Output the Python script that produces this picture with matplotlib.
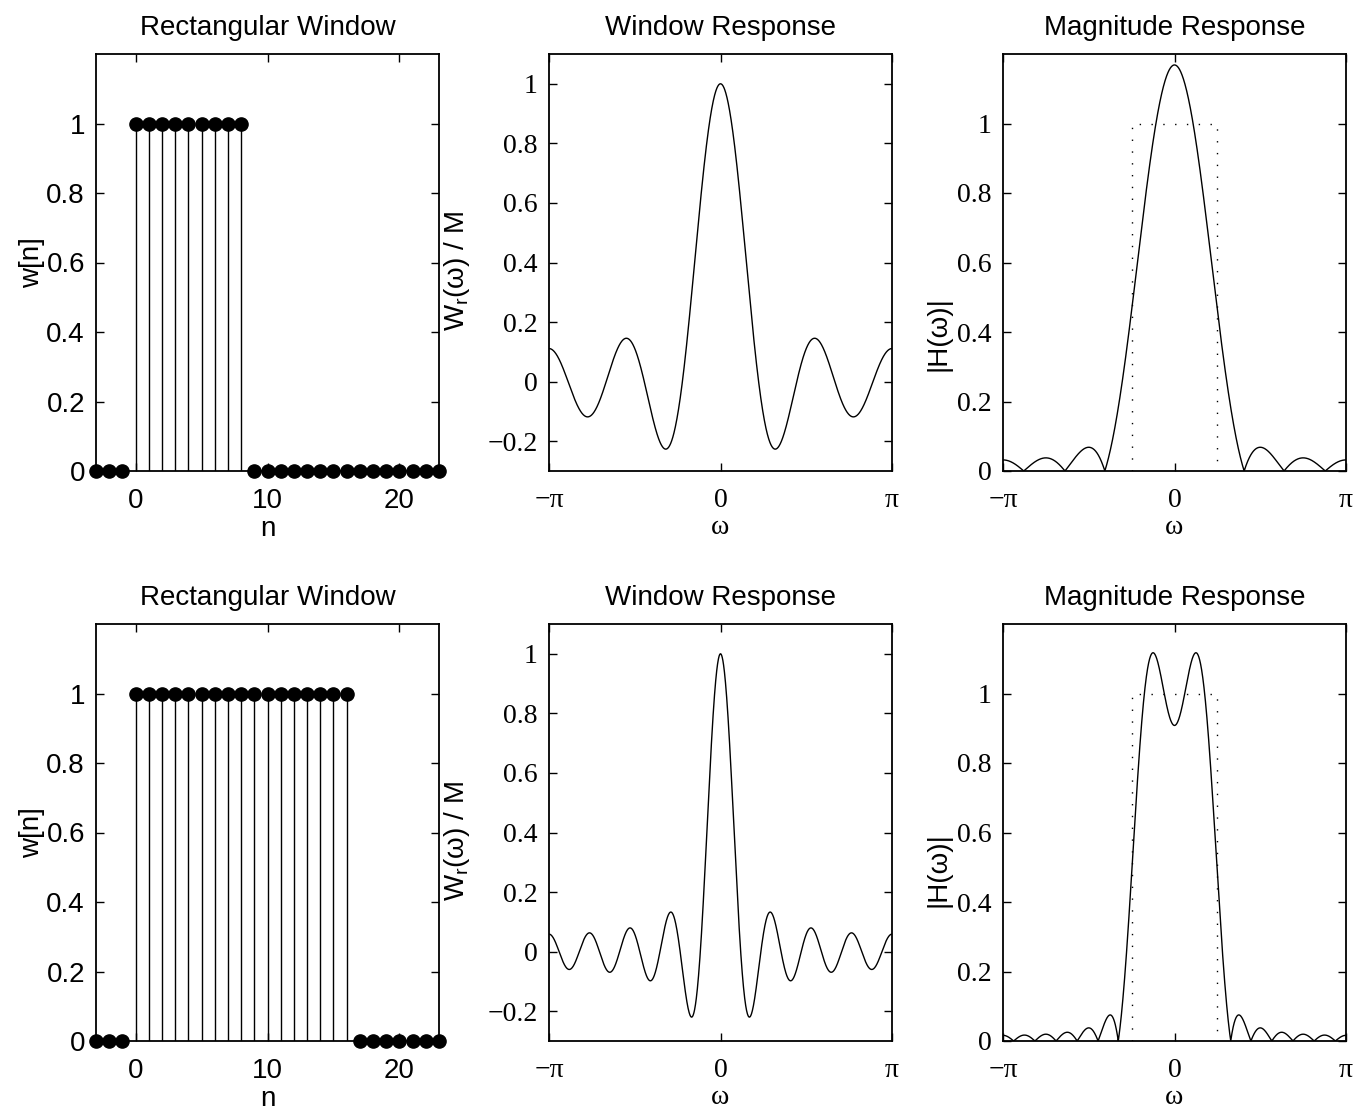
import numpy as np
import matplotlib
matplotlib.use("Agg")
import matplotlib.pyplot as plt

# ---- data ----
n = list(range(-3, 24))
w_top = [0, 0, 0] + [1] * 9 + [0] * 15      # M = 9
w_bot = [0, 0, 0] + [1] * 17 + [0] * 7      # M = 17
cutoff = np.pi / 4                           # ideal lowpass cutoff
ideal_w = [-np.pi / 4, -np.pi / 4, np.pi / 4, np.pi / 4]
ideal_h = [0, 1, 1, 0]

titles = ["Rectangular Window", "Window Response", "Magnitude Response"]
pi_ticks = [-np.pi, 0, np.pi]
pi_labels = ["\u2212\u03c0", "0", "\u03c0"]

SANS = "Liberation Sans"
SERIF = "Liberation Serif"
FS = 20

fig = plt.figure(figsize=(13.69, 11.11), dpi=100)
W, H = 1369, 1111

def axes_px(x0, y0, x1, y1):
    return fig.add_axes([x0 / W, 1 - y1 / H, (x1 - x0) / W, (y1 - y0) / H])

col_x = [(96, 439), (549, 892), (1003, 1346)]
row_y = [(54, 471), (624, 1041)]
hlabel_y = [0.33, 0.41]

omega = np.linspace(-np.pi, np.pi, 2001)

def style(ax, serif):
    fam = SERIF if serif else SANS
    ax.tick_params(direction="in", length=6, width=1.0, top=True, right=True,
                   labelsize=FS, pad=8)
    ax.tick_params(axis="x", pad=12)
    for lab in ax.get_xticklabels() + ax.get_yticklabels():
        lab.set_fontfamily(fam)
    for s in ax.spines.values():
        s.set_linewidth(1.3)

for r, w in enumerate([w_top, w_bot]):
    n_arr = np.array(n)
    w_arr = np.array(w, dtype=float)
    idx = np.nonzero(w_arr)[0]
    M = len(idx)
    n_on = n_arr[idx]
    alpha = (n_on[0] + n_on[-1]) / 2.0

    # --- window stem plot ---
    ax = axes_px(col_x[0][0], row_y[r][0], col_x[0][1], row_y[r][1])
    ax.vlines(n_arr, 0, w_arr, colors="black", lw=1.0)
    ax.plot(n_arr, w_arr, "o", color="black", ms=9.5, clip_on=False, zorder=5)
    ax.set_xlim(-3, 23)
    ax.set_ylim(0, 1.2)
    ax.set_xticks([0, 10, 20])
    ax.set_yticks([0, 0.2, 0.4, 0.6, 0.8, 1])
    ax.set_yticklabels(["0", "0.2", "0.4", "0.6", "0.8", "1"])
    style(ax, False)
    ax.set_title(titles[0], fontsize=FS, family=SANS, pad=14)
    ax.set_xlabel("n", fontsize=FS, family=SANS, labelpad=2)
    ax.set_ylabel("w[n]", fontsize=FS, family=SANS)
    ax.yaxis.set_label_coords(-0.15, 0.5)

    # --- window response ---
    Wr = (w_arr[None, :] * np.exp(-1j * omega[:, None] * (n_arr[None, :] - alpha))).sum(axis=1).real / M
    ax = axes_px(col_x[1][0], row_y[r][0], col_x[1][1], row_y[r][1])
    ax.plot(omega, Wr, color="black", lw=1.0)
    ax.set_xlim(-np.pi, np.pi)
    ax.set_ylim(-0.3, 1.1)
    ax.set_xticks(pi_ticks)
    ax.set_xticklabels(pi_labels)
    ax.set_yticks([-0.2, 0, 0.2, 0.4, 0.6, 0.8, 1])
    ax.set_yticklabels(["\u22120.2", "0", "0.2", "0.4", "0.6", "0.8", "1"])
    style(ax, True)
    ax.set_title(titles[1], fontsize=FS, family=SANS, pad=14)
    ax.set_xlabel("\u03c9", fontsize=FS, family=SERIF, labelpad=2)
    ax.set_ylabel("W$_\\mathregular{r}$(\u03c9) / M", fontsize=FS, family=SANS)
    ax.yaxis.set_label_coords(-0.225, 0.48)

    # --- magnitude response of windowed ideal lowpass ---
    k = n_arr - alpha
    hd = np.where(k == 0, cutoff / np.pi, np.sin(cutoff * k) / (np.pi * np.where(k == 0, 1, k)))
    h = hd * w_arr
    Hm = np.abs((h[None, :] * np.exp(-1j * omega[:, None] * k[None, :])).sum(axis=1))
    ax = axes_px(col_x[2][0], row_y[r][0], col_x[2][1], row_y[r][1])
    ax.plot(ideal_w, ideal_h, color="black", lw=1.0, linestyle=(0, (1, 7.5)))
    ax.plot(omega, Hm, color="black", lw=1.0)
    ax.set_xlim(-np.pi, np.pi)
    ax.set_ylim(0, 1.2)
    ax.set_xticks(pi_ticks)
    ax.set_xticklabels(pi_labels)
    ax.set_yticks([0, 0.2, 0.4, 0.6, 0.8, 1])
    ax.set_yticklabels(["0", "0.2", "0.4", "0.6", "0.8", "1"])
    style(ax, True)
    ax.set_title(titles[2], fontsize=FS, family=SANS, pad=14)
    ax.set_xlabel("\u03c9", fontsize=FS, family=SERIF, labelpad=2)
    ax.set_ylabel("|H(\u03c9)|", fontsize=FS, family=SANS)
    ax.yaxis.set_label_coords(-0.15, hlabel_y[r])

fig.savefig("out.png", dpi=100)
